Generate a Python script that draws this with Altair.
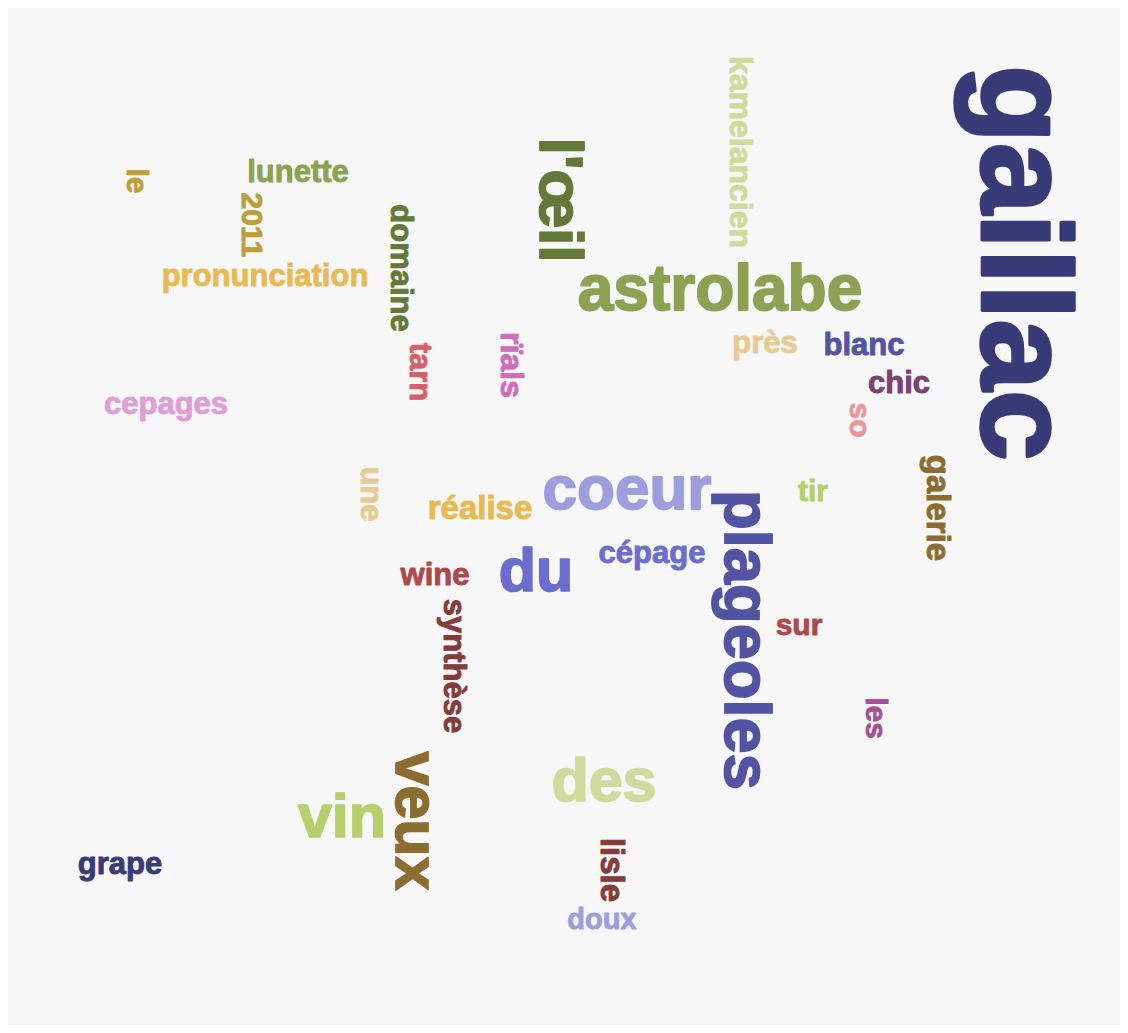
import altair as alt
import pandas as pd

words = ["gaillac", "grape", "blanc", "plageoles", "du", "cépage", "coeur", "doux",
         "l'œil", "domaine", "astrolabe", "lunette", "vin", "tir", "des", "kamelancien",
         "veux", "galerie", "le", "2011", "pronunciation", "réalise", "près", "une",
         "synthèse", "lisle", "wine", "sur", "tarn", "so", "chic", "les", "rïals", "cepages"]
xs = [1020, 120, 864, 745, 536, 652, 627, 602,
      559, 400, 720, 298, 342, 813, 604, 740,
      414, 937, 136, 251, 265, 480, 765, 370,
      453, 611, 435, 799, 419, 859, 899, 875, 511, 166]
ys = [263, 865, 346, 640, 573, 554, 490, 920,
      200, 268, 291, 173, 819, 492, 783, 152,
      821, 508, 181, 225, 277, 509, 344, 494,
      666, 870, 576, 626, 372, 420, 384, 718, 365, 405]
sizes = [127, 31, 31, 65, 61, 31, 62, 29,
         62, 31, 64, 31, 61, 30, 61, 32,
         61, 33, 30, 30, 31, 33, 31, 31,
         31, 33, 31, 30, 31, 30, 31, 30, 32, 31]
angles = [90, 0, 0, 90, 0, 0, 0, 0,
          90, 90, 0, 0, 0, 0, 0, 90,
          90, 90, 90, 90, 0, 0, 0, 90,
          90, 90, 0, 0, 90, 90, 0, 90, 90, 0]
colors = ["#393b79", "#393b79", "#5254a3", "#5254a3", "#6b6ecf", "#6b6ecf", "#9c9ede", "#9c9ede",
          "#637939", "#637939", "#8ca252", "#8ca252", "#b5cf6b", "#b5cf6b", "#cedb9c", "#cedb9c",
          "#8c6d31", "#8c6d31", "#bd9e39", "#bd9e39", "#e7ba52", "#e7ba52", "#e7cb94", "#e7cb94",
          "#843c39", "#843c39", "#ad494a", "#ad494a", "#d6616b", "#e7969c", "#7b4173", "#a55194",
          "#ce6dbd", "#de9ed6"]

df = pd.DataFrame({"word": words, "x": xs, "y": ys, "size": sizes,
                   "angle": angles, "color": colors})

chart = alt.Chart(df).mark_text(
    font="Liberation Sans", fontWeight="bold", align="center", baseline="middle",
    strokeJoin="round"
).encode(
    x=alt.X("x:Q", scale=alt.Scale(domain=[8, 1120]), axis=None),
    y=alt.Y("y:Q", scale=alt.Scale(domain=[1025, 8]), axis=None),
    text="word:N",
    size=alt.Size("size:Q", scale=None),
    angle=alt.Angle("angle:Q", scale=None),
    color=alt.Color("color:N", scale=None),
    stroke=alt.Stroke("color:N", scale=None),
    strokeWidth=alt.StrokeWidth("size:Q", scale=alt.Scale(domain=[30, 127], range=[0.9, 3.5]), legend=None),
).properties(
    width=1112, height=1017, padding=0, background="#f7f7f7"
).configure_view(stroke=None, fill="#f7f7f7")

chart.save("out.html", embed_options={"renderer": "svg", "actions": False})
